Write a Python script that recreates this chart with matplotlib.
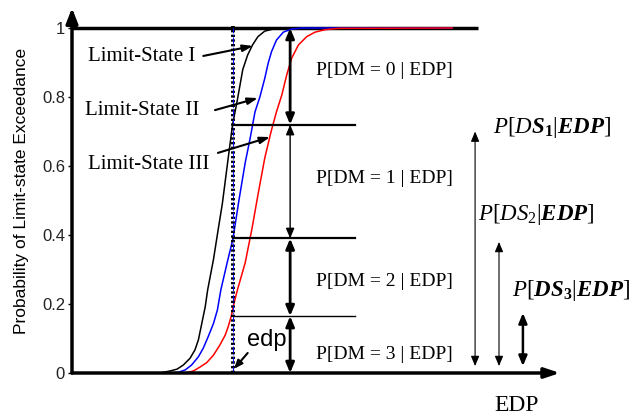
import numpy as np
import matplotlib.pyplot as plt

# fragility curves, read as (edp, probability of exceedance)
ls1_x = [1.80, 2.01, 2.15, 2.28, 2.42, 2.52, 2.59, 2.66, 2.73, 2.78, 2.90, 3.00, 3.08, 3.18, 3.29,
         3.38, 3.50, 3.60, 3.70, 3.81, 3.95, 4.12, 4.36, 7.79]
ls1_y = [0.0, 0.006, 0.011, 0.023, 0.043, 0.067, 0.096, 0.144, 0.192, 0.241, 0.33, 0.42, 0.49, 0.60, 0.72,
         0.785, 0.88, 0.922, 0.951, 0.975, 0.991, 0.997, 1.0, 1.0]
ls2_x = [2.05, 2.18, 2.32, 2.45, 2.59, 2.69, 2.79, 2.90, 2.98, 3.05, 3.18, 3.30, 3.42, 3.55, 3.65,
         3.75, 3.85, 3.95, 4.02, 4.09, 4.19, 4.33, 4.50, 4.71, 7.79]
ls2_y = [0.0, 0.002, 0.009, 0.023, 0.047, 0.072, 0.105, 0.144, 0.183, 0.241, 0.32, 0.39, 0.50, 0.61, 0.68,
         0.757, 0.80, 0.854, 0.898, 0.932, 0.965, 0.988, 0.997, 1.0, 1.0]
ls3_x = [2.15, 2.32, 2.49, 2.62, 2.76, 2.90, 3.03, 3.14, 3.20, 3.26, 3.32, 3.39, 3.55, 3.69, 3.81,
         3.95, 4.08, 4.19, 4.30, 4.40, 4.50, 4.64, 4.81, 4.98, 5.18, 5.46, 7.79]
ls3_y = [0.0, 0.0, 0.006, 0.017, 0.030, 0.052, 0.081, 0.110, 0.134, 0.163, 0.202, 0.241, 0.32, 0.42, 0.516,
         0.623, 0.70, 0.757, 0.806, 0.864, 0.912, 0.951, 0.975, 0.988, 0.995, 0.999, 1.0]

edp = 3.3
p_exceed = [1.0, 0.72, 0.39, 0.165, 0.0]   # P[LS_i | edp] at the chosen edp
dm_labels = ['P[DM = 0 | EDP]', 'P[DM = 1 | EDP]', 'P[DM = 2 | EDP]', 'P[DM = 3 | EDP]']
ds_tops = [0.70, 0.38, 0.174]
ds_labels = [r'$P[D\mathbfit{S}_\mathbf{1}|\mathbfit{EDP}]$',
             r'$P[DS_2|\mathbfit{EDP}]$',
             r'$P[\mathbfit{DS}_\mathbf{3}|\mathbfit{EDP}]$']
yticks = [0, 0.2, 0.4, 0.6, 0.8, 1]

plt.rcParams['mathtext.fontset'] = 'custom'
plt.rcParams['mathtext.rm'] = 'Liberation Serif'
plt.rcParams['mathtext.it'] = 'Liberation Serif:italic'
plt.rcParams['mathtext.bf'] = 'Liberation Serif:bold'
plt.rcParams['mathtext.bfit'] = 'Liberation Serif:bold:italic'
serif = 'Liberation Serif'
sans = 'Liberation Sans'

fig = plt.figure(figsize=(6.31, 4.17), dpi=100)
ax = fig.add_axes([72/631, 1 - 373/417, 488/631, 365/417])
ax.set_xlim(0, 10)
ax.set_ylim(0, 1.058)
for s in ax.spines.values():
    s.set_visible(False)
ax.set_xticks([])
ax.set_yticks(yticks)
ax.set_yticklabels(['0', '0.2', '0.4', '0.6', '0.8', '1'], fontsize=12, family=sans, color='#222222')
ax.tick_params(axis='y', direction='out', length=3, width=1, pad=2)
ax.set_ylabel('Probability of Limit-state Exceedance', fontsize=12.5, family=sans, labelpad=9)

# axes with arrow heads
ax.annotate('', xy=(0, 1.0), xytext=(0, 0), xycoords='axes fraction',
            arrowprops=dict(arrowstyle='-|>,head_length=0.9,head_width=0.35', lw=2.5, color='black',
                            shrinkA=0, shrinkB=0), annotation_clip=False)
ax.annotate('', xy=(1.0, 0), xytext=(0, 0), xycoords='axes fraction',
            arrowprops=dict(arrowstyle='-|>,head_length=0.9,head_width=0.3', lw=2.5, color='black',
                            shrinkA=0, shrinkB=0), annotation_clip=False)
ax.plot([0, 8.32], [1, 1], color='black', lw=2.5, solid_capstyle='butt')

ax.plot(ls1_x, ls1_y, color='black', lw=1.1)
ax.plot(ls2_x, ls2_y, color='blue', lw=1.1)
ax.plot(ls3_x, ls3_y, color='red', lw=1.1)

# edp marker line
ax.plot([edp, edp], [0, 1.005], color='black', lw=2.8, linestyle=(0, (0.6, 0.6)))
ax.plot([edp, edp], [0, 1.0], color='blue', lw=0.7, linestyle='-.')

# horizontal cuts at the exceedance levels
for p, lw in zip(p_exceed[1:4], [1.6, 1.6, 1.0]):
    ax.plot([edp, 5.8], [p, p], color='black', lw=lw)

# double arrows for each damage state band
xa = 4.47
band_lw = [2.0, 1.0, 2.0, 2.0]
for i in range(4):
    ax.annotate('', xy=(xa, p_exceed[i + 1]), xytext=(xa, p_exceed[i]),
                arrowprops=dict(arrowstyle='<|-|>,head_length=0.6,head_width=0.25', lw=band_lw[i],
                                color='black', shrinkA=0, shrinkB=0))
dm_y = [0.878, 0.565, 0.264, 0.055]
for lab, y in zip(dm_labels, dm_y):
    ax.text(6.41, y, lab, ha='center', va='center', fontsize=14, family=serif)

# cumulative damage-state arrows
ds_x = [8.26, 8.75, 9.24]
ds_lw = [0.8, 0.8, 1.8]
for x, top, lw in zip(ds_x, ds_tops, ds_lw):
    ax.annotate('', xy=(x, top), xytext=(x, 0.02),
                arrowprops=dict(arrowstyle='<|-|>,head_length=0.6,head_width=0.25', lw=lw,
                                color='black', shrinkA=0, shrinkB=0))
ax.text(8.63, 0.713, ds_labels[0], ha='left', va='center', fontsize=16.5)
ax.text(8.32, 0.458, ds_labels[1], ha='left', va='center', fontsize=16.5)
ax.text(9.02, 0.24, ds_labels[2], ha='left', va='center', fontsize=16.5)

# curve labels
ls_text = ['Limit-State I', 'Limit-State II', 'Limit-State III']
ls_text_pos = [(0.32, 0.916), (0.27, 0.762), (0.33, 0.603)]
ls_tail = [(2.69, 0.919), (2.93, 0.762), (2.99, 0.638)]
ls_head = [(3.71, 0.948), (3.81, 0.797), (4.06, 0.684)]
for t, (tx, ty), tail, head in zip(ls_text, ls_text_pos, ls_tail, ls_head):
    ax.text(tx, ty, t, ha='left', va='center', fontsize=15, family=serif)
    ax.annotate('', xy=head, xytext=tail,
                arrowprops=dict(arrowstyle='-|>,head_length=0.6,head_width=0.2', lw=1.5,
                                color='black', shrinkA=0, shrinkB=0))

ax.text(3.99, 0.096, 'edp', ha='center', va='center', fontsize=17, family=sans)
ax.annotate('', xy=(3.32, 0.012), xytext=(3.60, 0.058),
            arrowprops=dict(arrowstyle='-|>,head_length=0.5,head_width=0.2', lw=1.5,
                            color='black', shrinkA=0, shrinkB=0))

ax.text(9.12, -0.093, 'EDP', ha='center', va='center', fontsize=17, family=serif,
        clip_on=False)

fig.savefig('out.png', dpi=100)
